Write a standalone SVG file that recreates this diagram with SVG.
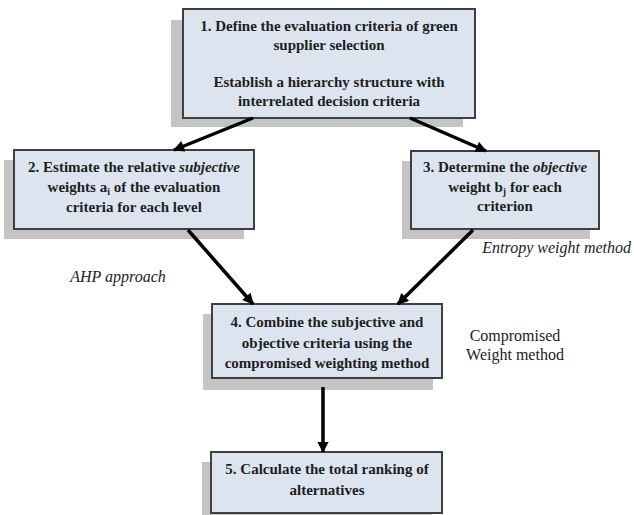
<svg xmlns="http://www.w3.org/2000/svg" width="634" height="515" viewBox="0 0 634 515">
<defs>
<style>
.shadow{fill:#c4c4c4;}
.box{fill:#dce5ef;stroke:#3f3f3f;stroke-width:2;}
text{font-family:'Liberation Serif','Times New Roman',Times,'DejaVu Serif',serif;}
.bt{font-size:15px;font-weight:bold;fill:#1e1e1e;text-anchor:middle;}
.lab{font-size:16px;fill:#222;}
.it{font-style:italic;}
.conn{stroke:#000;stroke-width:3.5;fill:none;marker-end:url(#ah);}
</style>
<marker id="ah" viewBox="0 0 10 10" refX="9" refY="5" markerWidth="3.6" markerHeight="3.2" orient="auto" markerUnits="strokeWidth">
<path d="M0,0 L10,5 L0,10 Z" fill="#000"/>
</marker>
</defs>
<rect width="634" height="515" fill="#fff"/>
<g id="node1">
<rect class="shadow" x="171" y="20" width="292" height="107"/>
<rect class="box" x="183" y="9" width="292" height="109"/>
<text class="bt" x="329" y="31">1. Define the evaluation criteria of green</text>
<text class="bt" x="329" y="50">supplier selection</text>
<text class="bt" x="329" y="87">Establish a hierarchy structure with</text>
<text class="bt" x="329" y="106">interrelated decision criteria</text>
</g>
<g id="node2">
<rect class="shadow" x="4" y="160" width="240" height="79"/>
<rect class="box" x="14" y="150" width="240" height="79"/>
<text class="bt" x="134" y="172">2. Estimate the relative <tspan font-style="italic">subjective</tspan></text>
<text class="bt" x="134" y="192">weights a<tspan font-size="10" dy="3">i</tspan><tspan dy="-3"> of the evaluation</tspan></text>
<text class="bt" x="134" y="212">criteria for each level</text>
</g>
<g id="node3">
<rect class="shadow" x="402" y="161" width="188" height="78"/>
<rect class="box" x="411" y="151" width="188" height="78"/>
<text class="bt" x="505" y="172">3. Determine the <tspan font-style="italic">objective</tspan></text>
<text class="bt" x="505" y="192">weight b<tspan font-size="10" dy="3">j</tspan><tspan dy="-3"> for each</tspan></text>
<text class="bt" x="505" y="211">criterion</text>
</g>
<g id="node4">
<rect class="shadow" x="203" y="314" width="230" height="76"/>
<rect class="box" x="212" y="304" width="230" height="74"/>
<text class="bt" x="327" y="327">4. Combine the subjective and</text>
<text class="bt" x="327" y="348">objective criteria using the</text>
<text class="bt" x="327" y="368">compromised weighting method</text>
</g>
<g id="node5">
<rect class="shadow" x="202" y="462" width="230" height="53"/>
<rect class="box" x="211" y="452" width="231" height="61"/>
<text class="bt" x="327" y="474">5. Calculate the total ranking of</text>
<text class="bt" x="327" y="495">alternatives</text>
</g>
<g id="labels">
<text class="lab it" x="118" y="282" text-anchor="middle">AHP approach</text>
<text class="lab it" x="631" y="253" text-anchor="end">Entropy weight method</text>
<text class="lab" x="515" y="341" text-anchor="middle">Compromised</text>
<text class="lab" x="515" y="360" text-anchor="middle">Weight method</text>
</g>
<g id="connectors">
<line class="conn" x1="253" y1="118" x2="174" y2="150"/>
<line class="conn" x1="410" y1="118" x2="486" y2="151"/>
<line class="conn" x1="188" y1="230" x2="253" y2="304"/>
<line class="conn" x1="473" y1="230" x2="398" y2="304"/>
<line class="conn" x1="323" y1="387" x2="323" y2="452"/>
</g>
</svg>
